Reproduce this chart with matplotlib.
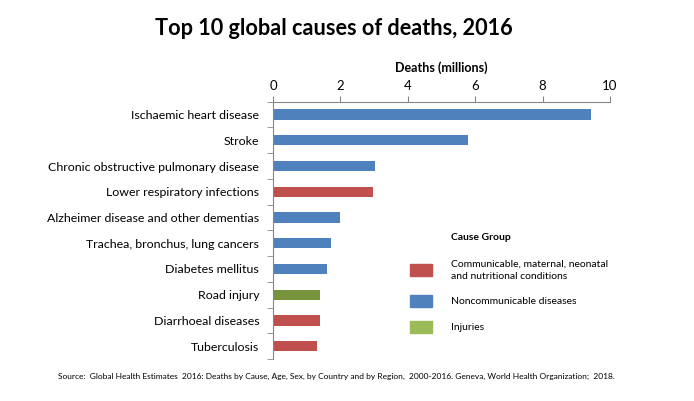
import matplotlib.pyplot as plt
import numpy as np

plt.rcParams['font.family'] = ['Lato', 'DejaVu Sans']

# ── Data ─────────────────────────────────────────────────────────────
causes = ['Ischaemic heart disease', 'Stroke',
          'Chronic obstructive pulmonary disease',
          'Lower respiratory infections',
          'Alzheimer disease and other dementias',
          'Trachea, bronchus, lung cancers', 'Diabetes mellitus',
          'Road injury', 'Diarrhoeal diseases', 'Tuberculosis']
deaths = [9.43, 5.78, 3.04, 2.96, 1.99, 1.71, 1.60, 1.38, 1.38, 1.30]
groups = ['NCD', 'NCD', 'NCD', 'CMN', 'NCD', 'NCD', 'NCD', 'INJ', 'CMN', 'CMN']

bar_color = {'CMN': '#C0504D', 'NCD': '#4F81BD', 'INJ': '#77933C'}
legend_items = [('Communicable, maternal, neonatal\nand nutritional conditions', '#C0504D'),
                ('Noncommunicable diseases', '#4F81BD'),
                ('Injuries', '#9BBB59')]

# ── Plot ─────────────────────────────────────────────────────────────
fig = plt.figure(figsize=(6.94, 4.01), dpi=100)
ax = fig.add_axes([0.3934, 0.1047, 0.4856, 0.6417])

y = np.arange(len(causes))
ax.barh(y, deaths, height=0.4, color=[bar_color[g] for g in groups])

ax.set_xlim(0, 10)
ax.set_ylim(len(causes) - 0.5, -0.5)
ax.xaxis.tick_top()
ax.xaxis.set_label_position('top')
ax.set_xticks([0, 2, 4, 6, 8, 10])
ax.set_xlabel('Deaths (millions)', fontsize=9, fontweight='bold', labelpad=6)
ax.tick_params(axis='x', direction='out', length=4, color='#868686',
               labelsize=9.5, pad=3)

ax.set_yticks(y)
ax.set_yticklabels(causes, fontsize=8.9)
ax.tick_params(axis='y', length=0, pad=10)
ax.set_yticks(np.arange(-0.5, len(causes), 1), minor=True)
ax.tick_params(axis='y', which='minor', length=4, color='#868686')

for s in ['right', 'bottom']:
    ax.spines[s].set_visible(False)
for s in ['left', 'top']:
    ax.spines[s].set_color('#868686')
    ax.spines[s].set_linewidth(0.8)

fig.text(334 / 694, 0.93, 'Top 10 global causes of deaths, 2016',
         ha='center', va='center', fontsize=15.6, fontweight='bold')

# legend drawn by hand (no frame, items spaced like the original)
fig.text(451 / 694, 1 - 237 / 401, 'Cause Group', fontsize=7.5,
         fontweight='bold', va='center')
leg_y = [270, 301, 327]
for (lab, col), py in zip(legend_items, leg_y):
    fig.patches.append(plt.Rectangle((410 / 694, 1 - (py + 6) / 401),
                                     22 / 694, 12 / 401, color=col,
                                     transform=fig.transFigure))
    fig.text(451 / 694, 1 - py / 401, lab, fontsize=7.5, va='center',
             linespacing=1.5)

fig.text(336 / 694, 1 - 376 / 401,
         'Source:  Global Health Estimates  2016: Deaths by Cause, Age, Sex, '
         'by Country and by Region,  2000-2016. Geneva, World Health Organization;  2018.',
         ha='center', va='center', fontsize=6)

plt.savefig('out.png', dpi=100)
